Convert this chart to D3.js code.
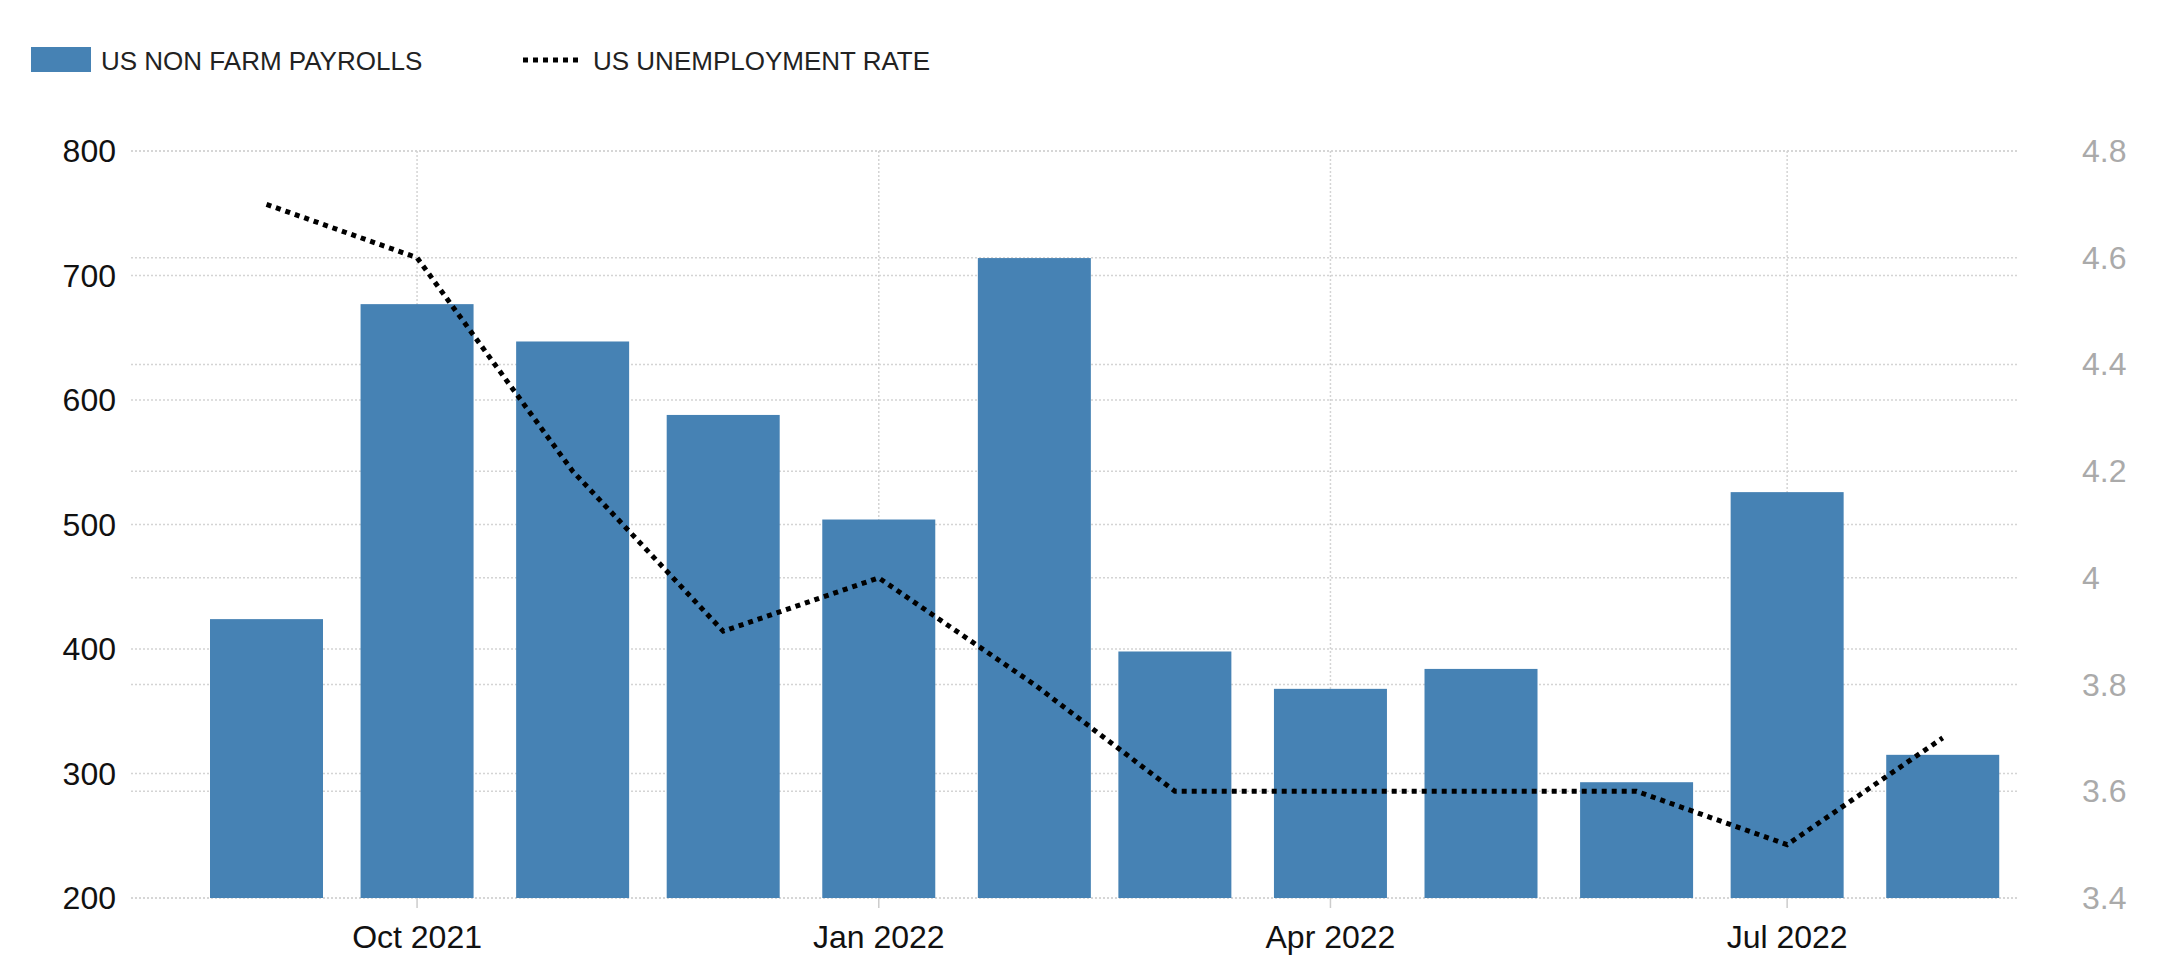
<!DOCTYPE html>
<html><head><meta charset="utf-8">
<script src="https://cdn.jsdelivr.net/npm/d3@7"></script>
<style>body{margin:0;background:#fff}</style>
</head><body><div id="chart"></div>
<script>
var width = 2160, height = 972;
var months = ["2021-09-01","2021-10-01","2021-11-01","2021-12-01","2022-01-01","2022-02-01","2022-03-01","2022-04-01","2022-05-01","2022-06-01","2022-07-01","2022-08-01"];
var payrolls = [424, 677, 647, 588, 504, 714, 398, 368, 384, 293, 526, 315];
var unemployment = [4.7, 4.6, 4.2, 3.9, 4.0, 3.8, 3.6, 3.6, 3.6, 3.6, 3.5, 3.7];
var leftTicks = [200, 300, 400, 500, 600, 700, 800];
var rightTicks = [3.4, 3.6, 3.8, 4.0, 4.2, 4.4, 4.6, 4.8];
var xTicks = ["2021-10-01", "2022-01-01", "2022-04-01", "2022-07-01"];

var parse = d3.timeParse("%Y-%m-%d");
var data = months.map(function(m, i) { return {date: parse(m), p: payrolls[i], u: unemployment[i]}; });

var plotLeft = 131, plotRight = 2018, plotTop = 151, plotBottom = 898;
var svg = d3.select("#chart").append("svg").attr("width", width).attr("height", height);

var x = d3.scaleTime().domain([parse("2021-08-05"), parse("2022-08-16")]).range([plotLeft, plotRight]);
var yL = d3.scaleLinear().domain([200, 800]).range([plotBottom, plotTop]);
var yR = d3.scaleLinear().domain([3.4, 4.8]).range([plotBottom, plotTop]);
var font = "'Liberation Sans Narrow','Liberation Sans',Arial,sans-serif";

// grid
var grid = svg.append("g").attr("stroke", "#d4d4d4").attr("stroke-width", 1.5).attr("stroke-dasharray", "2,2");
grid.selectAll(".gl").data(leftTicks).enter().append("line")
  .attr("x1", plotLeft).attr("x2", plotRight).attr("y1", d => yL(d)).attr("y2", d => yL(d));
grid.selectAll(".gr").data(rightTicks).enter().append("line")
  .attr("x1", plotLeft).attr("x2", plotRight).attr("y1", d => yR(d)).attr("y2", d => yR(d));
grid.selectAll(".gx").data(xTicks).enter().append("line")
  .attr("x1", d => x(parse(d))).attr("x2", d => x(parse(d))).attr("y1", plotTop).attr("y2", plotBottom);

// bars
var bw = 113;
svg.selectAll(".bar").data(data).enter().append("rect")
  .attr("x", d => x(d.date) - bw / 2).attr("width", bw)
  .attr("y", d => yL(d.p)).attr("height", d => yL(200) - yL(d.p))
  .attr("fill", "#4682b4");

// line
var line = d3.line().x(d => x(d.date)).y(d => yR(d.u));
svg.append("path").datum(data).attr("d", line).attr("fill", "none")
  .attr("stroke", "#000").attr("stroke-width", 5).attr("stroke-dasharray", "5,5");

// axes
svg.selectAll(".lt").data(leftTicks).enter().append("text")
  .attr("x", 116).attr("y", d => yL(d) + 11).attr("text-anchor", "end")
  .attr("font-family", font).attr("font-size", 32).attr("fill", "#111").text(d => d);
svg.selectAll(".rt").data(rightTicks).enter().append("text")
  .attr("x", 2082).attr("y", d => yR(d) + 11)
  .attr("font-family", font).attr("font-size", 32).attr("fill", "#aaa").text(d => d3.format("~g")(d));
svg.selectAll(".xt").data(xTicks).enter().append("line")
  .attr("x1", d => x(parse(d))).attr("x2", d => x(parse(d))).attr("y1", plotBottom).attr("y2", plotBottom + 10)
  .attr("stroke", "#ccc").attr("stroke-width", 1.5);
svg.selectAll(".xl").data(xTicks).enter().append("text")
  .attr("x", d => x(parse(d))).attr("y", 948).attr("text-anchor", "middle")
  .attr("font-family", font).attr("font-size", 32).attr("fill", "#111")
  .text(d => d3.timeFormat("%b %Y")(parse(d)));

// legend
svg.append("rect").attr("x", 31).attr("y", 47).attr("width", 60).attr("height", 25).attr("fill", "#4682b4");
svg.append("text").attr("x", 101).attr("y", 70).attr("font-family", font).attr("font-size", 26).attr("fill", "#222").text("US NON FARM PAYROLLS");
svg.append("line").attr("x1", 523).attr("x2", 583).attr("y1", 60).attr("y2", 60)
  .attr("stroke", "#000").attr("stroke-width", 5).attr("stroke-dasharray", "5,5");
svg.append("text").attr("x", 593).attr("y", 70).attr("font-family", font).attr("font-size", 26).attr("fill", "#222").text("US UNEMPLOYMENT RATE");
</script>
</body></html>
